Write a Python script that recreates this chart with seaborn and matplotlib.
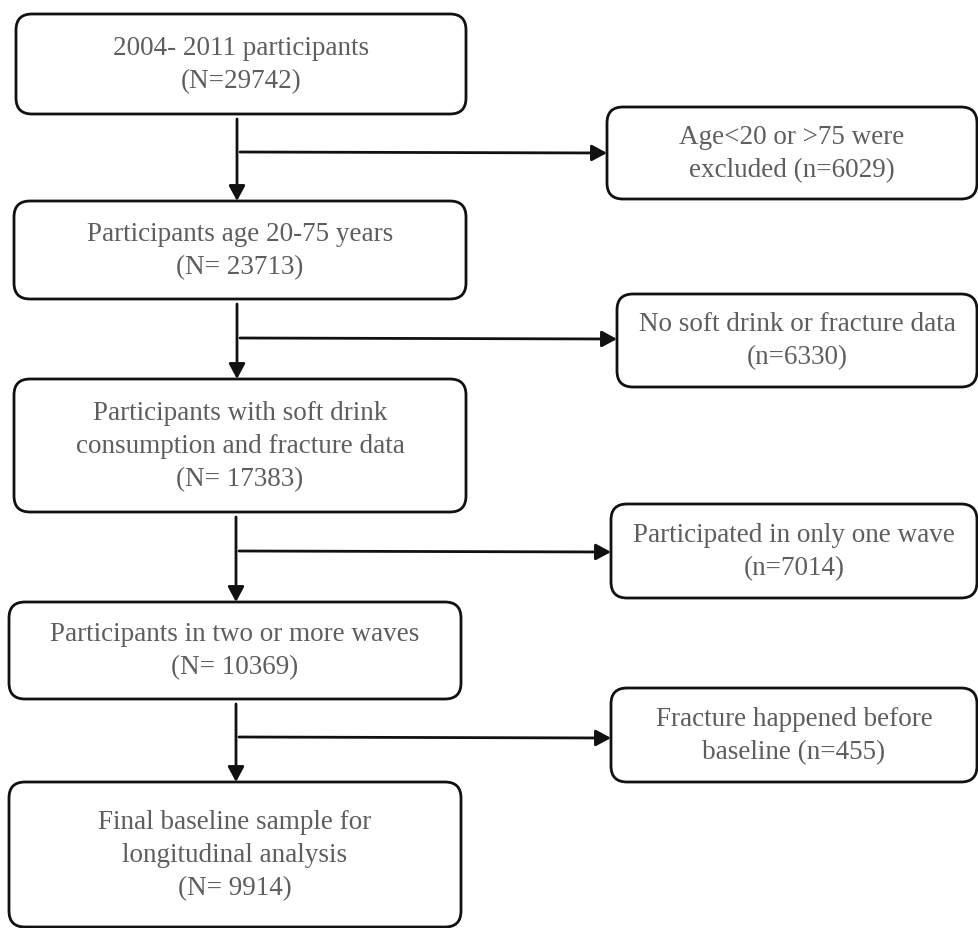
import matplotlib
matplotlib.use("Agg")
import matplotlib.pyplot as plt
import seaborn as sns
from matplotlib.patches import FancyBboxPatch, FancyArrowPatch

# Flowchart content
main_steps = [
    "2004- 2011 participants",
    "Participants age 20-75 years",
    "Participants with soft drink\nconsumption and fracture data",
    "Participants in two or more waves",
    "Final baseline sample for\nlongitudinal analysis",
]
main_counts = ["(N=29742)", "(N= 23713)", "(N= 17383)", "(N= 10369)", "(N= 9914)"]

excluded_steps = [
    "Age<20 or >75 were\nexcluded (n=6029)",
    "No soft drink or fracture data\n(n=6330)",
    "Participated in only one wave\n(n=7014)",
    "Fracture happened before\nbaseline (n=455)",
]

# Layout in pixel units (x0, x1, y_top, y_bottom)
main_boxes = [
    (16, 466, 15, 115),
    (14, 466, 202, 300),
    (14, 466, 380, 513),
    (9, 461, 603, 700),
    (9, 461, 783, 928),
]
side_boxes = [
    (607, 977, 108, 200),
    (617, 977, 295, 388),
    (611, 977, 505, 599),
    (611, 977, 689, 783),
]
branch_y = [153, 339, 552, 738]
trunk_x = [237, 237, 236, 236]

sns.set_theme(style="white")
plt.rcParams["font.family"] = ["Liberation Serif", "DejaVu Serif"]

fig = plt.figure(figsize=(9.79, 9.29), dpi=100)
ax = fig.add_axes([0, 0, 1, 1])
ax.set_xlim(0, 979)
ax.set_ylim(929, 0)
ax.axis("off")

text_color = "#5e5e5e"
edge = "#111111"
head = "-|>,head_length=0.65,head_width=0.35"


def draw_box(x0, x1, y0, y1, label):
    box = FancyBboxPatch((x0, y0), x1 - x0, y1 - y0,
                         boxstyle="round,pad=0,rounding_size=16",
                         facecolor="white", edgecolor=edge, linewidth=2.0)
    ax.add_patch(box)
    ax.text((x0 + x1) / 2, (y0 + y1) / 2, label, ha="center", va="center",
            fontsize=19.5, color=text_color, linespacing=1.42)


for (x0, x1, y0, y1), step, n in zip(main_boxes, main_steps, main_counts):
    draw_box(x0, x1, y0, y1, step + "\n" + n)

for (x0, x1, y0, y1), step in zip(side_boxes, excluded_steps):
    draw_box(x0, x1, y0, y1, step)

# arrows between main boxes and to exclusion boxes
for i in range(len(main_boxes) - 1):
    x = trunk_x[i]
    top = main_boxes[i][3] + 5
    bottom = main_boxes[i + 1][2]
    ax.add_patch(FancyArrowPatch((x, top), (x, bottom), arrowstyle=head,
                                 mutation_scale=14, color=edge, lw=2.0,
                                 shrinkA=0, shrinkB=0))
    y = branch_y[i]
    ax.add_patch(FancyArrowPatch((x + 3, y), (side_boxes[i][0], y + 1),
                                 arrowstyle=head, mutation_scale=14,
                                 color=edge, lw=2.0, shrinkA=0, shrinkB=0))

fig.savefig("out.png", dpi=100, facecolor="white")
